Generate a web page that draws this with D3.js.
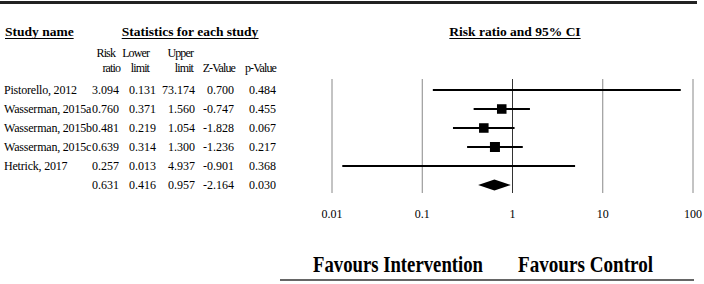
<!DOCTYPE html>
<html lang="en">
<head>
<meta charset="UTF-8">
<title>Forest plot</title>
<script src="https://d3js.org/d3.v7.min.js"></script>
<style>
  body { margin: 0; background: #fff; }
  svg { display: block; font-family: "Liberation Serif", "Times New Roman", serif; }
</style>
</head>
<body>
<svg id="chart"></svg>
<script>
const studies = ["Pistorello, 2012", "Wasserman, 2015a", "Wasserman, 2015b", "Wasserman, 2015c", "Hetrick, 2017", ""];
const riskRatio = [3.094, 0.760, 0.481, 0.639, 0.257, 0.631];
const lowerLimit = [0.131, 0.371, 0.219, 0.314, 0.013, 0.416];
const upperLimit = [73.174, 1.560, 1.054, 1.300, 4.937, 0.957];
const zValue = [0.700, -0.747, -1.828, -1.236, -0.901, -2.164];
const pValue = [0.484, 0.455, 0.067, 0.217, 0.368, 0.030];
// relative weights (box size), last row is the pooled estimate
const weights = [1, 30, 30, 33, 1, null];
const ticks = [0.01, 0.1, 1, 10, 100];

const width = 704, height = 284;
const svg = d3.select("#chart").attr("width", width).attr("height", height);

svg.append("rect").attr("width", width).attr("height", height).attr("fill", "#fff");

// rules top / bottom
svg.append("line").attr("x1", 0).attr("x2", 697).attr("y1", 2.5).attr("y2", 2.5)
  .attr("stroke", "#222").attr("stroke-width", 3);
svg.append("line").attr("x1", 280).attr("x2", 694).attr("y1", 280).attr("y2", 280)
  .attr("stroke", "#666").attr("stroke-width", 2);

const y = d3.scalePoint().domain(d3.range(studies.length)).range([90, 185]);
const x = d3.scaleLog().domain([0.01, 100]).range([332, 693]);
const box = d3.scaleSqrt().domain([0, 33]).range([0, 10]);

// headers
function underlined(txt, xp, anchor, size) {
  const t = svg.append("text").attr("x", xp).attr("y", 36).attr("text-anchor", anchor)
    .attr("font-weight", "bold").attr("font-size", size).text(txt);
  const bb = t.node().getBBox();
  svg.append("line").attr("x1", bb.x).attr("x2", bb.x + bb.width)
    .attr("y1", 38.5).attr("y2", 38.5).attr("stroke", "#000").attr("stroke-width", 1);
}
underlined("Study name", 5, "start", 13.5);
underlined("Statistics for each study", 190, "middle", 13.5);
underlined("Risk ratio and 95% CI", 515, "middle", 13.5);

// column headers
const cols = [
  { top: "Risk", bot: "ratio", tx: 115, bx: 120, nx: 119, vals: riskRatio },
  { top: "Lower", bot: "limit", tx: 149, bx: 149, nx: 156, vals: lowerLimit },
  { top: "Upper", bot: "limit", tx: 193, bx: 193, nx: 195, vals: upperLimit },
  { top: "", bot: "Z-Value", tx: 235, bx: 235, nx: 234, vals: zValue },
  { top: "", bot: "p-Value", tx: 276, bx: 276, nx: 276, vals: pValue }
];
const fmt = d => d3.format(".3f")(d).replace("−", "-");

const fs = 12;
cols.forEach(c => {
  svg.append("text").attr("x", c.tx).attr("y", 57).attr("text-anchor", "end")
    .attr("font-size", fs).attr("letter-spacing", -0.9).text(c.top);
  svg.append("text").attr("x", c.bx).attr("y", 72).attr("text-anchor", "end")
    .attr("font-size", fs).attr("letter-spacing", -0.9).text(c.bot);
  svg.selectAll(null).data(c.vals).join("text")
    .attr("x", c.nx).attr("y", (d, i) => y(i) + 4)
    .attr("text-anchor", "end").attr("font-size", fs)
    .text(fmt);
});

svg.selectAll(".name").data(studies).join("text")
  .attr("class", "name")
  .attr("x", 4).attr("y", (d, i) => y(i) + 4)
  .attr("font-size", fs).attr("letter-spacing", -0.2)
  .text(d => d);

// grid lines
svg.selectAll(".grid").data(ticks).join("line")
  .attr("class", "grid")
  .attr("x1", d => x(d)).attr("x2", d => x(d))
  .attr("y1", 79).attr("y2", 193)
  .attr("stroke", d => d === 1 ? "#333" : "#888").attr("stroke-width", 1);

// tick labels
svg.selectAll(".tick").data(ticks).join("text")
  .attr("class", "tick")
  .attr("x", d => x(d)).attr("y", 218)
  .attr("text-anchor", "middle").attr("font-size", fs)
  .text(d => d);

// CI lines and boxes
const rows = d3.range(studies.length - 1);
svg.selectAll(".ci").data(rows).join("line")
  .attr("class", "ci")
  .attr("x1", i => x(lowerLimit[i])).attr("x2", i => x(upperLimit[i]))
  .attr("y1", i => y(i)).attr("y2", i => y(i))
  .attr("stroke", "#000").attr("stroke-width", 2);

svg.selectAll(".box").data(rows).join("rect")
  .attr("class", "box")
  .attr("x", i => x(riskRatio[i]) - box(weights[i]) / 2)
  .attr("y", i => y(i) - box(weights[i]) / 2)
  .attr("width", i => box(weights[i])).attr("height", i => box(weights[i]))
  .attr("fill", "#000");

// pooled diamond
const k = studies.length - 1;
const yc = y(k), hh = 5.5;
svg.append("path")
  .attr("d", `M${x(lowerLimit[k])},${yc} L${x(riskRatio[k])},${yc - hh} L${x(upperLimit[k])},${yc} L${x(riskRatio[k])},${yc + hh} Z`)
  .attr("fill", "#000");

// favours labels
svg.append("text").attr("x", 313).attr("y", 272).attr("font-weight", "bold")
  .attr("font-size", 23).attr("textLength", 170).attr("lengthAdjust", "spacingAndGlyphs")
  .text("Favours Intervention");
svg.append("text").attr("x", 518).attr("y", 272).attr("font-weight", "bold")
  .attr("font-size", 23).attr("textLength", 135).attr("lengthAdjust", "spacingAndGlyphs")
  .text("Favours Control");
</script>
</body>
</html>
